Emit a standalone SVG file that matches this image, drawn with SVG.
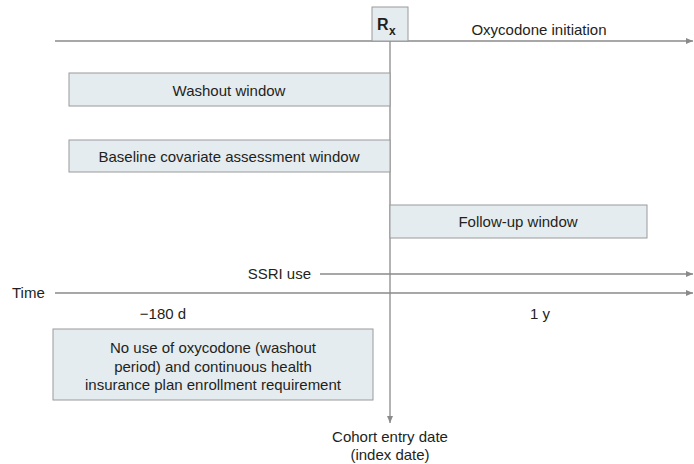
<svg xmlns="http://www.w3.org/2000/svg" width="694" height="464" viewBox="0 0 694 464">
<defs>
<style>
text{font-family:"Liberation Sans",Arial,sans-serif;font-size:15px;fill:#231f20}
.box{fill:#e5ecf0;stroke:#9a9a9a;stroke-width:1}
.ln{stroke:#8a8a8a;stroke-width:1.3;fill:none}
.mid{text-anchor:middle}
</style>
<marker id="ah" markerWidth="8" markerHeight="8" refX="7" refY="4" orient="auto" markerUnits="userSpaceOnUse">
<path d="M0,1 L7,4 L0,7 Z" fill="#8a8a8a"/>
</marker>
</defs>
<rect width="694" height="464" fill="#fff"/>
<g id="connectors">
<line class="ln" x1="55" y1="41" x2="693" y2="41" marker-end="url(#ah)"/>
<line class="ln" x1="390" y1="41" x2="390" y2="423" marker-end="url(#ah)"/>
<line class="ln" x1="320" y1="274" x2="693" y2="274" marker-end="url(#ah)"/>
<line class="ln" x1="55" y1="293" x2="693" y2="293" marker-end="url(#ah)"/>
</g>
<g id="rx">
<rect class="box" x="372" y="7" width="36" height="34"/>
<text x="377" y="30" style="font-weight:bold;font-size:16px">R</text>
<text x="389" y="35" style="font-weight:bold;font-size:12px">x</text>
</g>
<g id="oxy"><text class="mid" x="539" y="35">Oxycodone initiation</text></g>
<g id="washout">
<rect class="box" x="69" y="73" width="321" height="33"/>
<text class="mid" x="229" y="96">Washout window</text>
</g>
<g id="baseline">
<rect class="box" x="69" y="140" width="321" height="32"/>
<text class="mid" x="229" y="162">Baseline covariate assessment window</text>
</g>
<g id="followup">
<rect class="box" x="390" y="205" width="257" height="33"/>
<text class="mid" x="518" y="227">Follow-up window</text>
</g>
<g id="ssri"><text x="311" y="279" text-anchor="end">SSRI use</text></g>
<g id="time"><text x="12" y="298">Time</text></g>
<g id="m180"><text class="mid" x="163" y="319">−180 d</text></g>
<g id="y1"><text class="mid" x="540" y="319">1 y</text></g>
<g id="nouse">
<rect class="box" x="53" y="329" width="320" height="71"/>
<text class="mid" x="213" y="353">No use of oxycodone (washout</text>
<text class="mid" x="213" y="372">period) and continuous health</text>
<text class="mid" x="213" y="390">insurance plan enrollment requirement</text>
</g>
<g id="cohort">
<text class="mid" x="390" y="442">Cohort entry date</text>
<text class="mid" x="390" y="460">(index date)</text>
</g>
</svg>
